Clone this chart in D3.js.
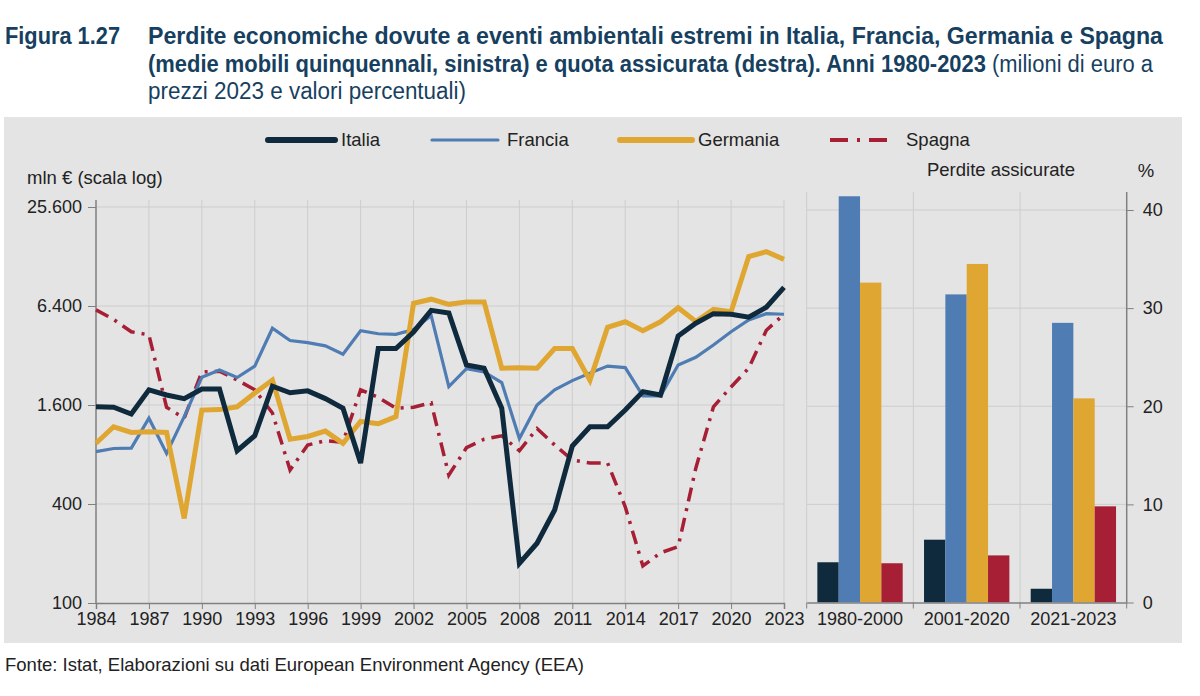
<!DOCTYPE html>
<html lang="it">
<head>
<meta charset="UTF-8">
<title>Figura 1.27</title>
<script src="https://d3js.org/d3.v7.min.js"></script>
<style>
  html, body { margin: 0; background: #fff; }
  text { font-family: "Liberation Sans", Arial, sans-serif; fill: #222; }
  .title { fill: #173f5f; font-family: "Liberation Sans Narrow", "Liberation Sans", Arial, sans-serif; font-size: 23.5px; }
  .tick text { font-size: 18px; fill: #222; }
</style>
</head>
<body>
<div id="vis"></div>
<script>
// serie annuali (medie mobili quinquennali, mln euro)
var years = d3.range(1984, 2024);
var italia   = [1560,1550,1410,1980,1840,1750,2000,2000,843,1040,
                2080,1900,1950,1750,1530,710,3530,3530,4450,6020,
                5800,2800,2680,1530,174,231,368,900,1180,1180,
                1490,1930,1840,4200,5030,5750,5700,5470,6290,8300];
var francia  = [832,870,875,1330,813,1360,2360,2610,2350,2760,
                4690,3950,3830,3660,3260,4530,4340,4300,4600,5600,
                2070,2660,2540,2190,1000,1600,1980,2250,2500,2760,
                2700,1820,1820,2800,3120,3710,4460,5270,5750,5700];
var germania = [936,1180,1090,1100,1090,327,1490,1500,1560,1890,
                2270,990,1030,1110,936,1270,1230,1360,6640,7040,
                6550,6780,6780,2680,2700,2680,3530,3530,2260,4750,
                5130,4530,5130,6250,5150,6100,5900,12800,13700,12300];
var spagna   = [6060,5300,4460,4270,1550,1330,2540,2570,2270,1980,
                1430,644,914,970,950,1980,1780,1530,1550,1650,
                600,880,990,1040,843,1150,914,740,710,710,
                385,168,202,220,660,1560,2060,2680,4560,5700];
var yTicks = [100, 400, 1600, 6400, 25600];
var xTicks = d3.range(1984, 2024, 3);

// quota assicurata (%)
var periods = ["1980-2000", "2001-2020", "2021-2023"];
var barIta = [4.1, 6.4, 1.4];
var barFra = [41.4, 31.4, 28.5];
var barGer = [32.6, 34.5, 20.8];
var barSpa = [4.0, 4.8, 9.8];
var pctTicks = [0, 10, 20, 30, 40];

var countries = ["Italia", "Francia", "Germania", "Spagna"];
var colors = { Italia: "#0f2a3d", Francia: "#4f7db3", Germania: "#e0a632", Spagna: "#a61f35" };
var widths = { Italia: 5, Francia: 3.2, Germania: 5, Spagna: 3.5 };
var dash = { Italia: null, Francia: null, Germania: null, Spagna: "14,7,3,7" };
var seriesVals = { Italia: italia, Francia: francia, Germania: germania, Spagna: spagna };
var barVals = { Italia: barIta, Francia: barFra, Germania: barGer, Spagna: barSpa };

var svg = d3.select('#vis').append('svg')
    .attr('width', 1200).attr('height', 696);

// titolo
svg.append('text').attr('class', 'title').attr('x', 5).attr('y', 44)
    .attr('font-weight', 'bold')
    .attr('textLength', 115).attr('lengthAdjust', 'spacingAndGlyphs')
    .text('Figura 1.27');
svg.append('text').attr('class', 'title').attr('x', 148).attr('y', 44)
    .attr('font-weight', 'bold')
    .attr('textLength', 1015).attr('lengthAdjust', 'spacingAndGlyphs')
    .text('Perdite economiche dovute a eventi ambientali estremi in Italia, Francia, Germania e Spagna');
var t2 = svg.append('text').attr('class', 'title').attr('x', 148).attr('y', 72)
    .attr('textLength', 1005).attr('lengthAdjust', 'spacingAndGlyphs');
t2.append('tspan').attr('font-weight', 'bold')
    .text('(medie mobili quinquennali, sinistra) e quota assicurata (destra). Anni 1980-2023');
t2.append('tspan').text(' (milioni di euro a');
svg.append('text').attr('class', 'title').attr('x', 148).attr('y', 99)
    .attr('textLength', 318).attr('lengthAdjust', 'spacingAndGlyphs')
    .text('prezzi 2023 e valori percentuali)');

// pannello grigio
svg.append('rect').attr('x', 4).attr('y', 117).attr('width', 1178).attr('height', 526)
    .attr('fill', '#e4e4e4');

// ---- grafico sinistro ----
var x = d3.scaleLinear().domain([1984, 2023]).range([96, 784]);
var y = d3.scaleLog().base(4).domain([100, 25600]).range([603, 207]);
var plotTop = 200;

var grid = svg.append('g');
grid.selectAll('.vg').data(xTicks.slice(1)).enter().append('line')
    .attr('x1', function(d) { return x(d); }).attr('x2', function(d) { return x(d); })
    .attr('y1', plotTop).attr('y2', y(100))
    .attr('stroke', '#cdcdcd').attr('stroke-width', 1);
grid.selectAll('.hg').data(yTicks.slice(1)).enter().append('line')
    .attr('x1', x(1984)).attr('x2', x(2023))
    .attr('y1', function(d) { return y(d); }).attr('y2', function(d) { return y(d); })
    .attr('stroke', '#cdcdcd').attr('stroke-width', 1);

var yAxis = svg.append('g').attr('transform', 'translate(' + x(1984) + ',0)')
    .call(d3.axisLeft(y).tickValues(yTicks).tickSize(8).tickPadding(6)
        .tickFormat(function(d) { return d3.format(',')(d).replace(/,/g, '.'); }));
yAxis.select('.domain').remove();
yAxis.selectAll('.tick line').attr('stroke', '#808080');
yAxis.append('line').attr('x1', 0).attr('x2', 0).attr('y1', plotTop).attr('y2', y(100))
    .attr('stroke', '#808080').attr('stroke-width', 1.5);

var xAxis = svg.append('g').attr('transform', 'translate(0,' + y(100) + ')')
    .call(d3.axisBottom(x).tickValues(xTicks).tickSize(6).tickPadding(3).tickFormat(d3.format('d')));
xAxis.select('.domain').attr('stroke', '#808080').attr('stroke-width', 1.5);
xAxis.selectAll('.tick line').attr('stroke', '#808080');

svg.append('text').attr('x', 27).attr('y', 184).attr('font-size', 18.5).text('mln € (scala log)');

var line = d3.line()
    .x(function(d, i) { return x(years[i]); })
    .y(function(d) { return y(d); });

['Spagna', 'Francia', 'Germania', 'Italia'].forEach(function(c) {
    svg.append('path').datum(seriesVals[c])
        .attr('d', line)
        .attr('fill', 'none')
        .attr('stroke', colors[c])
        .attr('stroke-width', widths[c])
        .attr('stroke-linejoin', 'miter')
        .attr('stroke-dasharray', dash[c]);
});

// ---- grafico destro ----
var xb = d3.scaleBand().domain(periods).range([806.7, 1126.7]);
var xi = d3.scaleBand().domain(countries).range([0, xb.bandwidth()]).paddingOuter(0.5);
var yb = d3.scaleLinear().domain([0, 40]).range([602.5, 210]);

var bgrid = svg.append('g');
bgrid.selectAll('.vb').data(periods).enter().append('line')
    .attr('x1', function(d) { return xb(d); }).attr('x2', function(d) { return xb(d); })
    .attr('y1', 192).attr('y2', yb(0))
    .attr('stroke', '#cdcdcd');
bgrid.selectAll('.hb').data(pctTicks.slice(1)).enter().append('line')
    .attr('x1', 806.7).attr('x2', 1126.7)
    .attr('y1', function(d) { return yb(d); }).attr('y2', function(d) { return yb(d); })
    .attr('stroke', '#cdcdcd');

var groups = svg.selectAll('.grp').data(periods).enter().append('g')
    .attr('transform', function(d) { return 'translate(' + xb(d) + ',0)'; });
groups.selectAll('rect').data(function(p, pi) {
        return countries.map(function(c) { return { c: c, v: barVals[c][pi] }; });
    }).enter().append('rect')
    .attr('x', function(d) { return xi(d.c); })
    .attr('width', xi.bandwidth())
    .attr('y', function(d) { return yb(d.v); })
    .attr('height', function(d) { return yb(0) - yb(d.v); })
    .attr('fill', function(d) { return colors[d.c]; });

var rAxis = svg.append('g').attr('transform', 'translate(1126.7,0)')
    .call(d3.axisRight(yb).tickValues(pctTicks).tickSize(7).tickPadding(9));
rAxis.select('.domain').remove();
rAxis.selectAll('.tick line').attr('stroke', '#808080');
rAxis.append('line').attr('x1', 0).attr('x2', 0).attr('y1', 192).attr('y2', yb(0))
    .attr('stroke', '#808080').attr('stroke-width', 1.5);

var bAxis = svg.append('g').attr('transform', 'translate(0,' + yb(0) + ')')
    .call(d3.axisBottom(xb).tickSize(0).tickPadding(10));
bAxis.select('.domain').attr('stroke', '#808080').attr('stroke-width', 1.5);
bAxis.selectAll('.btick').data([806.7, 913.3, 1020, 1126.7]).enter().append('line')
    .attr('x1', function(d) { return d; }).attr('x2', function(d) { return d; })
    .attr('y1', 0).attr('y2', 6).attr('stroke', '#808080');

svg.append('text').attr('x', 1001).attr('y', 176).attr('text-anchor', 'middle')
    .attr('font-size', 18.5).text('Perdite assicurate');
svg.append('text').attr('x', 1146).attr('y', 177).attr('text-anchor', 'middle')
    .attr('font-size', 18.5).text('%');

// ---- legenda ----
var legend = [
    { c: 'Italia', x1: 268, x2: 335, tx: 341 },
    { c: 'Francia', x1: 432, x2: 498, tx: 507 },
    { c: 'Germania', x1: 620, x2: 692, tx: 698 },
    { c: 'Spagna', x1: 830, x2: 890, tx: 906 }
];
var lg = svg.selectAll('.lg').data(legend).enter().append('g');
lg.append('line')
    .attr('x1', function(d) { return d.x1; }).attr('x2', function(d) { return d.x2; })
    .attr('y1', 140).attr('y2', 140)
    .attr('stroke', function(d) { return colors[d.c]; })
    .attr('stroke-width', function(d) { return d.c === 'Francia' ? 3.2 : (d.c === 'Spagna' ? 4 : 6); })
    .attr('stroke-linecap', function(d) { return d.c === 'Spagna' ? 'butt' : 'round'; })
    .attr('stroke-dasharray', function(d) { return d.c === 'Spagna' ? '18,9,3,9' : null; });
lg.append('text')
    .attr('x', function(d) { return d.tx; }).attr('y', 146)
    .attr('font-size', 18.5).text(function(d) { return d.c; });

// fonte
svg.append('text').attr('x', 5).attr('y', 671).attr('font-size', 18.5)
    .text('Fonte: Istat, Elaborazioni su dati European Environment Agency (EEA)');
</script>
</body>
</html>
